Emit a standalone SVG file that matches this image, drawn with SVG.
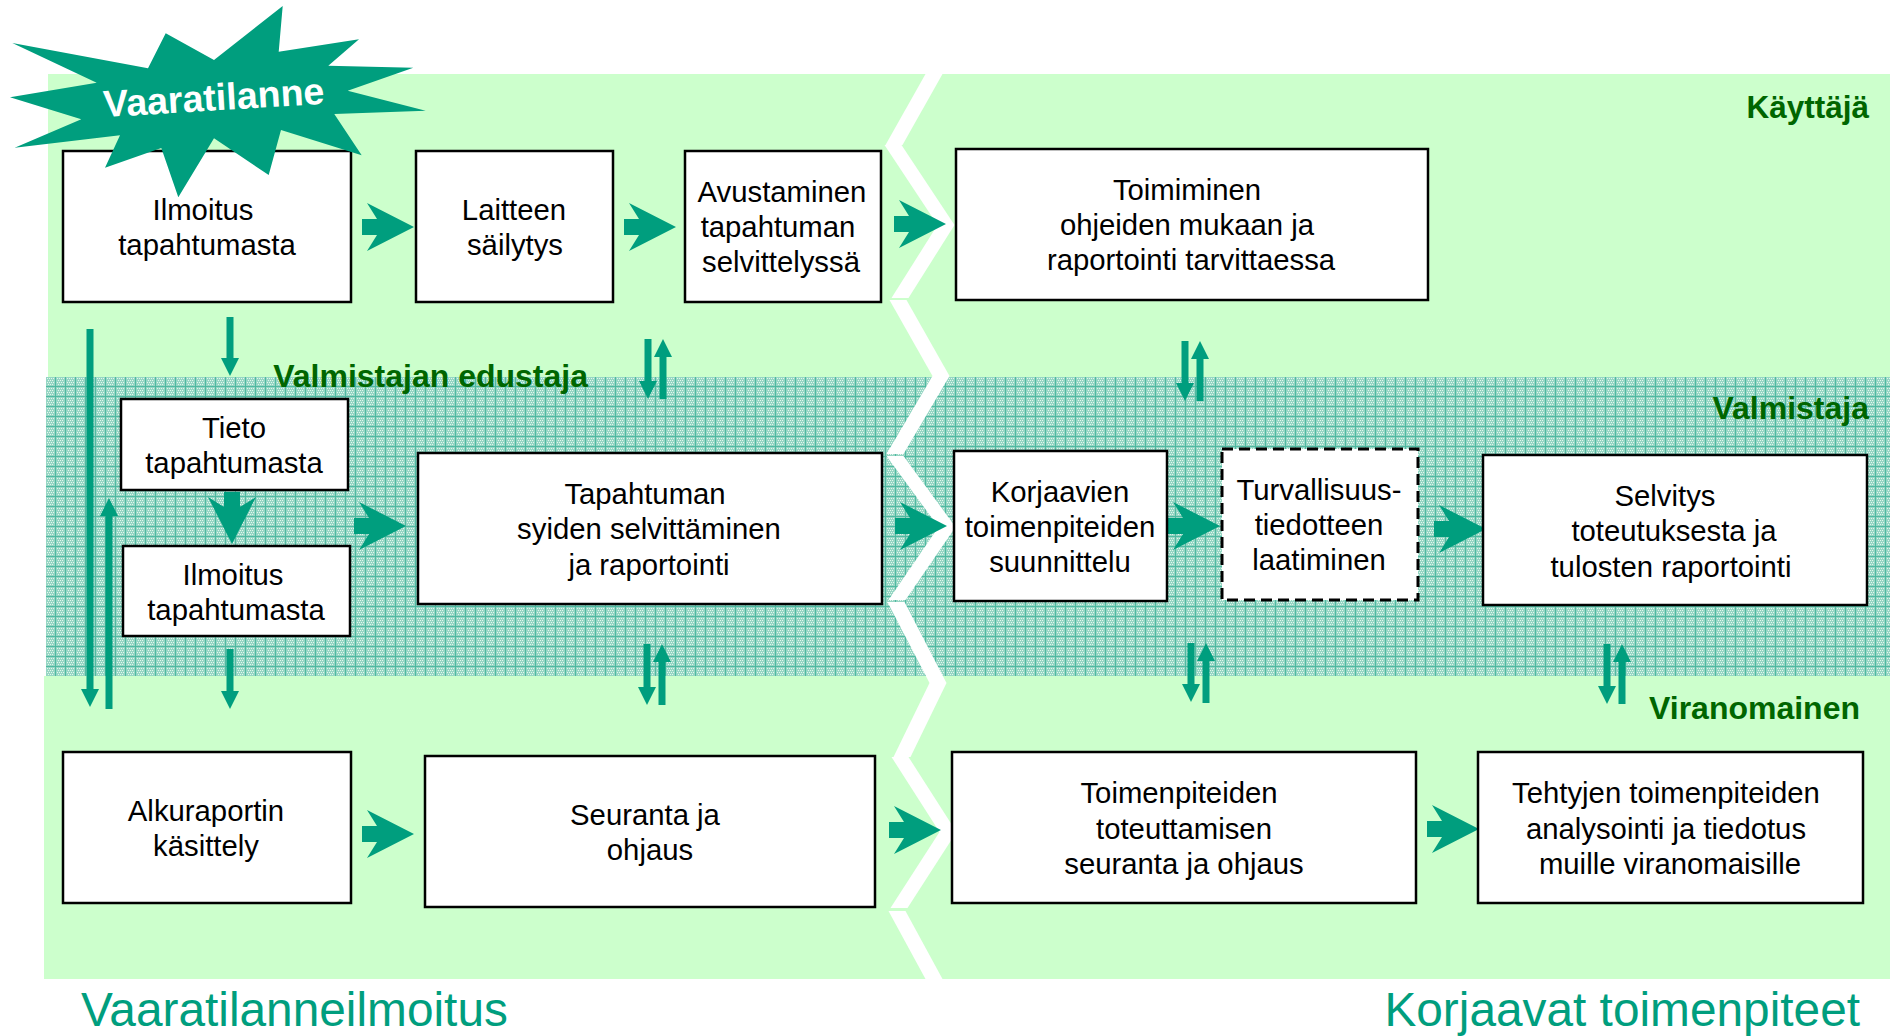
<svg xmlns="http://www.w3.org/2000/svg" width="1890" height="1036" viewBox="0 0 1890 1036">
<style>
text{font-family:"Liberation Sans",Arial,sans-serif}
.t{font-size:29.3px;fill:#000;text-anchor:middle}
.lane{font-size:32px;font-weight:bold;fill:#006600;text-anchor:end}
.title{font-size:47.8px;fill:#009E7E}
.box{fill:#fff;stroke:#000;stroke-width:2.5}
.dash{stroke-dasharray:11 6;stroke-width:3}
.zz{fill:#fff}
.big{fill:#009E7E}
.thin{stroke:#009E7E;stroke-width:7;fill:none;marker-end:url(#head)}
.d{fill:#e2f6ec}
</style>
<defs>
<pattern id="hatch" width="10" height="10" patternUnits="userSpaceOnUse" x="46" y="377">
<rect width="10" height="10" fill="#96d6c4"/>
<rect class="d" x="1" y="1" width="1" height="1"/><rect class="d" x="3" y="1" width="1" height="1"/><rect class="d" x="5" y="1" width="1" height="1"/><rect class="d" x="7" y="1" width="1" height="1"/>
<rect class="d" x="2" y="3" width="1" height="1"/><rect class="d" x="4" y="3" width="1" height="1"/><rect class="d" x="6" y="3" width="1" height="1"/>
<rect class="d" x="1" y="5" width="1" height="1"/><rect class="d" x="3" y="5" width="1" height="1"/><rect class="d" x="5" y="5" width="1" height="1"/><rect class="d" x="7" y="5" width="1" height="1"/>
<rect class="d" x="2" y="7" width="1" height="1"/><rect class="d" x="4" y="7" width="1" height="1"/><rect class="d" x="6" y="7" width="1" height="1"/>
<rect x="9" width="1" height="10" fill="#4fb9a1"/><rect y="9" width="10" height="1" fill="#4fb9a1"/>
</pattern>
<marker id="head" markerUnits="userSpaceOnUse" markerWidth="18" markerHeight="18" refX="0" refY="9" orient="auto" viewBox="0 0 18 18"><path d="M0 0L18 9L0 18Z" fill="#009E7E"/></marker>
<polygon id="arrow" points="0,0 -47,-24 -37,-8 -52,-8 -52,8 -37,8 -47,24"/>
</defs>
<rect width="1890" height="1036" fill="#fff"/>
<g id="bands">
<rect x="48" y="74" width="1842" height="303" fill="#CCFFCC"/>
<rect x="44" y="676" width="1846" height="303" fill="#CCFFCC"/>
<rect x="46" y="377" width="1844" height="299" fill="url(#hatch)"/>
</g>
<g id="zigzag" class="zz">
<polygon points="925.500,74 942.500,74 902.500,145 885.500,145"/>
<polygon points="884.500,145 901.500,145 954.500,225 937.500,225"/>
<polygon points="937.500,225 954.500,225 908.500,298 891.500,298"/>
<polygon points="889.500,300 906.500,300 949.500,376 932.500,376"/>
<polygon points="932.500,376 949.500,376 903.500,454 886.500,454"/>
<polygon points="886.500,456 903.500,456 955.500,527 938.500,527"/>
<polygon points="938.500,527 955.500,527 905.500,600 888.500,600"/>
<polygon points="887.500,602 904.500,602 946.500,683 929.500,683"/>
<polygon points="929.500,683 946.500,683 910.500,757 893.500,757"/>
<polygon points="891.500,757 908.500,757 956.500,832 939.500,832"/>
<polygon points="939.500,832 956.500,832 907.500,908 890.500,908"/>
<polygon points="888.500,911 905.500,911 942.500,979 925.500,979"/>
</g>
<g id="connectors">
<g class="big">
<use href="#arrow" transform="translate(414,227)"/>
<use href="#arrow" transform="translate(676,227)"/>
<use href="#arrow" transform="translate(946,224)"/>
<use href="#arrow" transform="translate(232,544) rotate(90)"/>
<use href="#arrow" transform="translate(406,526)"/>
<use href="#arrow" transform="translate(947,526)"/>
<use href="#arrow" transform="translate(1220,526)"/>
<use href="#arrow" transform="translate(1486,529)"/>
<use href="#arrow" transform="translate(414,834)"/>
<use href="#arrow" transform="translate(941,830)"/>
<use href="#arrow" transform="translate(1479,829)"/>
</g>
<line class="thin" x1="90" y1="329" x2="90" y2="689"/>
<line class="thin" x1="109" y1="709" x2="109" y2="516"/>
<line class="thin" x1="230" y1="317" x2="230" y2="358"/>
<line class="thin" x1="230" y1="649" x2="230" y2="691"/>
<line class="thin" x1="648" y1="339" x2="648" y2="381"/>
<line class="thin" x1="663" y1="399" x2="663" y2="357"/>
<line class="thin" x1="1185" y1="341" x2="1185" y2="383"/>
<line class="thin" x1="1200" y1="401" x2="1200" y2="359"/>
<line class="thin" x1="647" y1="644" x2="647" y2="687"/>
<line class="thin" x1="662" y1="705" x2="662" y2="662"/>
<line class="thin" x1="1191" y1="643" x2="1191" y2="684"/>
<line class="thin" x1="1206" y1="703" x2="1206" y2="661"/>
<line class="thin" x1="1607" y1="644" x2="1607" y2="686"/>
<line class="thin" x1="1622" y1="704" x2="1622" y2="662"/>
</g>
<g id="n-ilmoitus1"><rect class="box" x="63" y="151" width="288" height="151"/><text class="t" x="203" y="220">Ilmoitus</text><text class="t" x="207" y="255">tapahtumasta</text></g>
<g id="n-laitteen"><rect class="box" x="416" y="151" width="197" height="151"/><text class="t" x="514" y="220">Laitteen</text><text class="t" x="515" y="255">säilytys</text></g>
<g id="n-avustaminen"><rect class="box" x="685" y="151" width="196" height="151"/><text class="t" x="782" y="202">Avustaminen</text><text class="t" x="778" y="237">tapahtuman</text><text class="t" x="781" y="272">selvittelyssä</text></g>
<g id="n-toimiminen"><rect class="box" x="956" y="149" width="472" height="151"/><text class="t" x="1187" y="200">Toimiminen</text><text class="t" x="1187" y="235">ohjeiden mukaan ja</text><text class="t" x="1191" y="270">raportointi tarvittaessa</text></g>
<g id="n-tieto"><rect class="box" x="121" y="399" width="227" height="91"/><text class="t" x="234" y="438">Tieto</text><text class="t" x="234" y="473">tapahtumasta</text></g>
<g id="n-ilmoitus2"><rect class="box" x="123" y="546" width="227" height="90"/><text class="t" x="233" y="585">Ilmoitus</text><text class="t" x="236" y="620">tapahtumasta</text></g>
<g id="n-tapahtuman"><rect class="box" x="418" y="453" width="464" height="151"/><text class="t" x="645" y="504">Tapahtuman</text><text class="t" x="649" y="539">syiden selvittäminen</text><text class="t" x="649" y="575">ja raportointi</text></g>
<g id="n-korjaavien"><rect class="box" x="954" y="451" width="213" height="150"/><text class="t" x="1060" y="502">Korjaavien</text><text class="t" x="1060" y="537">toimenpiteiden</text><text class="t" x="1060" y="572">suunnittelu</text></g>
<g id="n-turvallisuus"><rect class="box dash" x="1222" y="449" width="196" height="151"/><text class="t" x="1319" y="500">Turvallisuus-</text><text class="t" x="1319" y="535">tiedotteen</text><text class="t" x="1319" y="570">laatiminen</text></g>
<g id="n-selvitys"><rect class="box" x="1483" y="455" width="384" height="150"/><text class="t" x="1665" y="506">Selvitys</text><text class="t" x="1674" y="541">toteutuksesta ja</text><text class="t" x="1671" y="577">tulosten raportointi</text></g>
<g id="n-alkuraportin"><rect class="box" x="63" y="752" width="288" height="151"/><text class="t" x="206" y="821">Alkuraportin</text><text class="t" x="206" y="856">käsittely</text></g>
<g id="n-seuranta"><rect class="box" x="425" y="756" width="450" height="151"/><text class="t" x="645" y="825">Seuranta ja</text><text class="t" x="650" y="860">ohjaus</text></g>
<g id="n-toimenpiteiden"><rect class="box" x="952" y="752" width="464" height="151"/><text class="t" x="1179" y="803">Toimenpiteiden</text><text class="t" x="1184" y="839">toteuttamisen</text><text class="t" x="1184" y="874">seuranta ja ohjaus</text></g>
<g id="n-tehtyjen"><rect class="box" x="1478" y="752" width="385" height="151"/><text class="t" x="1666" y="803">Tehtyjen toimenpiteiden</text><text class="t" x="1666" y="839">analysointi ja tiedotus</text><text class="t" x="1670" y="874">muille viranomaisille</text></g>
<g id="n-vaaratilanne">
<polygon fill="#009E7E" points="282.700,6 278.700,51.700 359,39.300 328.300,65.700 413.300,67.700 347.700,90.700 425.700,110.700 334.300,114 361.700,155.300 281,130 268.700,175 214,138.300 178.300,197.300 161.300,148 105,167.700 120,135.300 14.700,147.700 81.300,119.300 10,97.300 96.700,82.700 12.300,43 148,68.300 165.700,33.300 214,60"/>
<text transform="rotate(-3.4 104 118)" x="104" y="117" font-size="37.6" font-weight="bold" fill="#fff">Vaaratilanne</text>
</g>
<g id="labels">
<text class="lane" x="1869" y="118" style="font-size:31.5px">Käyttäjä</text>
<text class="lane" x="1869" y="419">Valmistaja</text>
<text class="lane" x="588" y="387">Valmistajan edustaja</text>
<text class="lane" x="1860" y="719">Viranomainen</text>
<text class="title" x="81" y="1026">Vaaratilanneilmoitus</text>
<text class="title" x="1860" y="1026" text-anchor="end">Korjaavat toimenpiteet</text>
</g>
</svg>
